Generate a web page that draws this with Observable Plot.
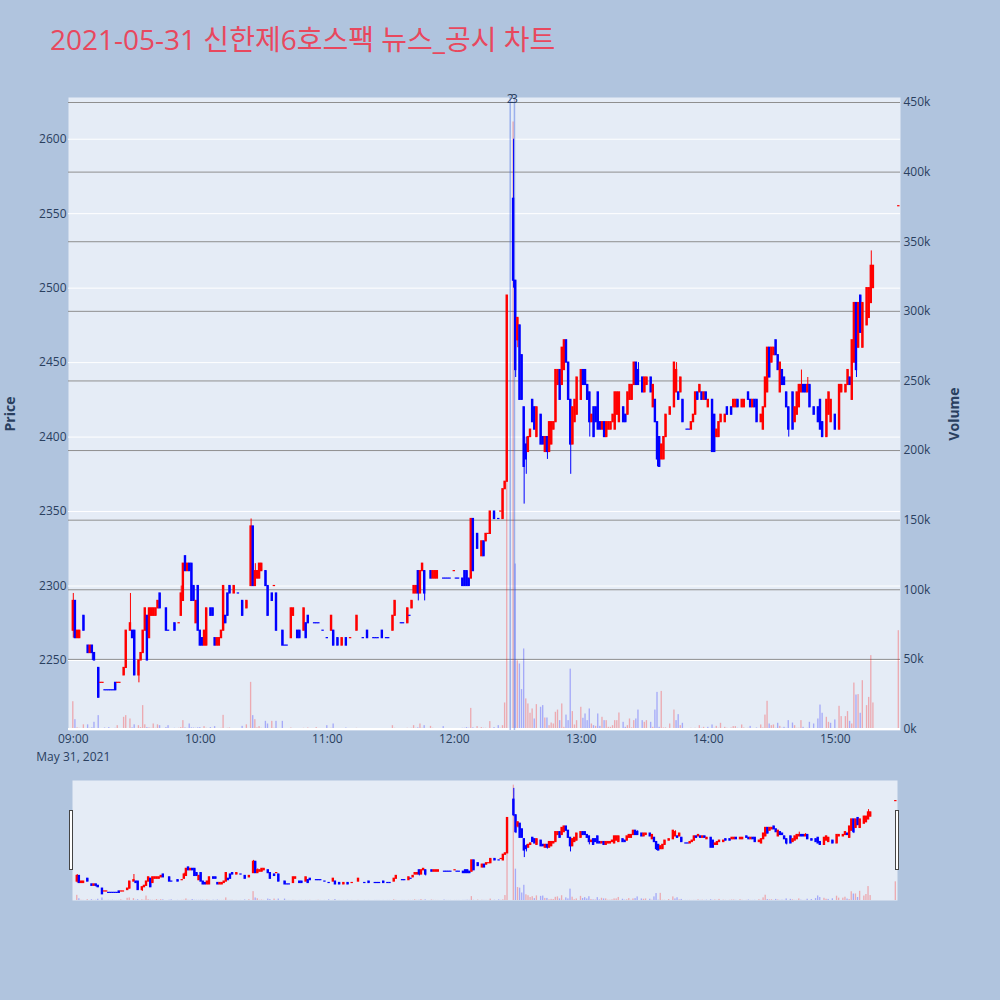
<!DOCTYPE html>
<html>
<head>
<meta charset="utf-8">
<script src="https://cdn.jsdelivr.net/npm/d3@7"></script>
<script src="https://cdn.jsdelivr.net/npm/@observablehq/plot@0.6"></script>
<style>
  body { margin: 0; background: #b0c4de; }
  #chart { position: relative; width: 1000px; height: 1000px; font-family: "Open Sans", "Noto Sans CJK KR", sans-serif; }
  #chart svg { position: absolute; left: 0; }
  #title { position: absolute; left: 50px; top: 18px; font-size: 28px; color: #e8485e; white-space: nowrap; }
  .handle { position: absolute; top: 810px; width: 2px; height: 58px; background: #fff; border: 1px solid #444; }
</style>
</head>
<body>
<div id="chart">
  <div id="title">2021-05-31 신한제6호스팩 뉴스_공시 차트</div>
</div>
<script>
const day = "2021-05-31";

// one entry per traded minute
const times = [
  "09:00","09:01","09:02","09:03","09:05","09:07","09:08","09:09","09:10","09:12",
  "09:13","09:14","09:15","09:16","09:17","09:18","09:19","09:20","09:21","09:22",
  "09:24","09:25","09:27","09:28","09:29","09:31","09:32","09:33","09:34","09:35",
  "09:36","09:37","09:38","09:39","09:40","09:41","09:44","09:45","09:48","09:50",
  "09:51","09:52","09:53","09:54","09:55","09:56","09:57","09:58","09:59","10:00",
  "10:01","10:02","10:03","10:05","10:06","10:07","10:08","10:09","10:10","10:11",
  "10:12","10:13","10:14","10:16","10:18","10:20","10:22","10:24","10:25","10:26",
  "10:27","10:28","10:29","10:31","10:32","10:34","10:35","10:36","10:39","10:40",
  "10:41","10:43","10:44","10:46","10:47","10:49","10:50","10:51","10:54","10:55",
  "10:56","10:58","11:00","11:02","11:03","11:05","11:07","11:09","11:11","11:14",
  "11:17","11:19","11:22","11:23","11:24","11:26","11:28","11:29","11:31","11:32",
  "11:35","11:36","11:38","11:39","11:40","11:41","11:42","11:43","11:44","11:45",
  "11:46","11:49","11:50","11:51","11:52","11:55","11:56","11:57","11:58","12:00",
  "12:01","12:02","12:04","12:05","12:06","12:07","12:08","12:09","12:11","12:13",
  "12:14","12:15","12:16","12:17","12:19","12:21","12:22","12:23","12:24","12:25",
  "12:28","12:29","12:30","12:31","12:32","12:33","12:34","12:35","12:36","12:37",
  "12:38","12:39","12:41","12:42","12:43","12:44","12:45","12:46","12:47","12:48",
  "12:49","12:50","12:51","12:52","12:53","12:54","12:55","12:56","12:57","12:58",
  "13:00","13:01","13:02","13:03","13:04","13:05","13:06","13:07","13:08","13:09",
  "13:10","13:11","13:12","13:13","13:14","13:15","13:16","13:17","13:18","13:20",
  "13:21","13:22","13:23","13:24","13:25","13:26","13:27","13:29","13:30","13:31",
  "13:33","13:34","13:35","13:36","13:37","13:38","13:39","13:40","13:42","13:44",
  "13:45","13:46","13:47","13:48","13:50","13:51","13:52","13:53","13:54","13:55",
  "13:56","13:57","13:58","13:59","14:00","14:02","14:03","14:04","14:05","14:06",
  "14:08","14:09","14:11","14:12","14:13","14:14","14:16","14:17","14:19","14:20",
  "14:21","14:22","14:23","14:25","14:26","14:27","14:28","14:29","14:30","14:31",
  "14:32","14:33","14:34","14:35","14:36","14:37","14:38","14:40","14:41","14:42",
  "14:43","14:44","14:45","14:46","14:47","14:48","14:50","14:52","14:53","14:54",
  "14:56","14:57","14:58","15:00","15:02","15:03","15:05","15:06","15:07","15:08",
  "15:09","15:10","15:11","15:12","15:13","15:15","15:16","15:17","15:18","15:30"
];

const opens = [
  2270,2290,2265,2265,2280,2260,2255,2260,2255,2245,
  2235,2235,2230,2230,2230,2230,2230,2235,2235,2235,
  2240,2245,2270,2270,2270,2240,2250,2255,2270,2280,
  2265,2280,2280,2280,2285,2295,2285,2270,2275,2275,
  2280,2290,2320,2310,2315,2315,2300,2275,2300,2270,
  2265,2260,2260,2285,2285,2265,2260,2260,2265,2270,
  2280,2295,2300,2295,2295,2290,2285,2300,2340,2300,
  2305,2305,2310,2310,2300,2295,2300,2295,2270,2260,
  2260,2265,2280,2270,2270,2270,2275,2280,2275,2275,
  2275,2270,2265,2270,2270,2265,2260,2265,2265,2270,
  2265,2270,2265,2265,2265,2270,2265,2265,2270,2280,
  2275,2275,2275,2280,2285,2295,2295,2310,2295,2310,
  2310,2310,2305,2305,2305,2305,2305,2305,2305,2310,
  2305,2305,2305,2310,2310,2305,2305,2345,2335,2320,
  2330,2330,2335,2335,2350,2345,2350,2345,2365,2370,
  2560,2505,2465,2475,2455,2420,2395,2390,2400,2425,
  2420,2400,2415,2400,2390,2400,2390,2395,2405,2410,
  2435,2445,2435,2445,2465,2450,2425,2395,2410,2415,
  2425,2445,2445,2435,2430,2410,2420,2420,2430,2410,
  2405,2410,2400,2405,2405,2410,2405,2415,2410,2420,
  2415,2415,2425,2425,2435,2450,2445,2440,2430,2435,
  2440,2420,2425,2410,2400,2385,2385,2400,2415,2420,
  2430,2430,2430,2425,2405,2405,2405,2410,2415,2430,
  2430,2430,2425,2430,2420,2425,2415,2400,2400,2410,
  2410,2420,2420,2420,2420,2425,2420,2420,2430,2425,
  2420,2425,2425,2410,2405,2420,2430,2460,2450,2455,
  2465,2455,2430,2445,2440,2430,2420,2430,2410,2415,
  2420,2430,2435,2435,2430,2435,2420,2420,2425,2410,
  2400,2415,2410,2415,2405,2430,2430,2435,2440,2425,
  2450,2490,2460,2495,2460,2475,2480,2490,2500,2555
];

const highs = [
  2295,2290,2270,2270,2280,2260,2260,2260,2255,2245,
  2235,2235,2230,2230,2230,2230,2230,2235,2235,2235,
  2245,2270,2295,2270,2270,2250,2255,2270,2285,2280,
  2285,2285,2285,2285,2290,2295,2285,2270,2275,2275,
  2300,2315,2320,2315,2315,2315,2300,2290,2300,2270,
  2265,2270,2285,2285,2285,2265,2265,2265,2270,2300,
  2280,2295,2300,2300,2295,2290,2290,2345,2340,2315,
  2310,2315,2315,2310,2300,2295,2300,2295,2270,2260,
  2260,2285,2285,2270,2270,2285,2275,2280,2275,2275,
  2275,2270,2265,2280,2270,2265,2265,2265,2265,2280,
  2265,2270,2265,2265,2265,2270,2265,2265,2280,2290,
  2275,2275,2285,2280,2290,2300,2300,2310,2310,2315,
  2310,2310,2310,2310,2310,2305,2305,2305,2305,2310,
  2305,2305,2305,2310,2310,2305,2345,2345,2335,2330,
  2330,2335,2335,2350,2350,2345,2350,2365,2370,2495,
  2600,2505,2480,2475,2455,2420,2400,2400,2405,2425,
  2420,2420,2415,2400,2400,2400,2410,2410,2410,2445,
  2445,2445,2460,2465,2465,2450,2425,2420,2425,2440,
  2445,2445,2445,2435,2430,2415,2420,2420,2430,2410,
  2410,2410,2410,2410,2410,2415,2430,2430,2430,2420,
  2415,2430,2435,2435,2450,2450,2450,2440,2440,2440,
  2440,2435,2425,2410,2400,2395,2400,2415,2420,2450,
  2450,2430,2440,2425,2405,2405,2410,2415,2430,2430,
  2435,2430,2430,2430,2425,2425,2415,2405,2410,2415,
  2415,2420,2420,2425,2425,2425,2425,2425,2430,2425,
  2425,2425,2425,2415,2420,2440,2460,2460,2460,2460,
  2465,2455,2450,2445,2440,2430,2420,2430,2420,2430,
  2435,2445,2435,2435,2440,2435,2420,2420,2425,2410,
  2425,2430,2425,2415,2435,2435,2435,2445,2440,2465,
  2490,2490,2490,2495,2490,2500,2500,2525,2515,2555
];

const lows = [
  2265,2265,2265,2265,2270,2255,2255,2250,2250,2225,
  2235,2235,2230,2230,2230,2230,2230,2230,2235,2235,
  2240,2245,2270,2265,2240,2235,2250,2255,2270,2250,
  2265,2280,2280,2280,2285,2285,2270,2270,2270,2275,
  2280,2290,2310,2310,2310,2290,2290,2275,2270,2260,
  2260,2260,2260,2280,2280,2260,2260,2260,2265,2270,
  2275,2280,2295,2295,2295,2280,2285,2300,2300,2300,
  2305,2305,2310,2300,2280,2290,2300,2270,2260,2260,
  2260,2265,2280,2265,2265,2270,2265,2275,2275,2275,
  2275,2270,2265,2270,2260,2260,2260,2260,2265,2270,
  2265,2265,2265,2265,2265,2265,2265,2265,2270,2280,
  2275,2275,2275,2280,2285,2295,2295,2290,2295,2310,
  2290,2305,2305,2305,2305,2305,2305,2305,2305,2310,
  2305,2305,2300,2300,2300,2300,2305,2310,2325,2320,
  2320,2330,2335,2335,2345,2345,2350,2345,2365,2370,
  2500,2440,2460,2425,2425,2355,2375,2390,2400,2410,
  2405,2400,2395,2395,2390,2385,2390,2395,2405,2410,
  2435,2425,2435,2445,2450,2425,2375,2395,2410,2415,
  2425,2435,2435,2425,2400,2410,2400,2410,2405,2405,
  2405,2400,2400,2405,2405,2410,2405,2415,2410,2410,
  2410,2415,2425,2425,2435,2435,2435,2430,2430,2435,
  2430,2420,2410,2380,2380,2385,2385,2400,2415,2420,
  2430,2425,2430,2410,2405,2405,2405,2410,2415,2425,
  2430,2425,2425,2425,2420,2390,2390,2400,2400,2410,
  2410,2415,2415,2420,2420,2420,2420,2420,2425,2420,
  2420,2420,2410,2410,2405,2420,2430,2440,2450,2455,
  2455,2445,2430,2435,2435,2420,2400,2405,2410,2415,
  2420,2430,2430,2430,2430,2420,2415,2410,2405,2400,
  2400,2415,2410,2405,2405,2430,2430,2435,2435,2425,
  2450,2440,2460,2470,2460,2475,2480,2490,2500,2555
];

const closes = [
  2290,2265,2270,2270,2270,2255,2260,2255,2250,2225,
  2235,2235,2230,2230,2230,2230,2230,2230,2235,2235,
  2245,2270,2275,2265,2240,2250,2255,2270,2285,2250,
  2285,2285,2285,2285,2290,2285,2270,2270,2270,2275,
  2295,2315,2310,2315,2310,2290,2290,2290,2270,2260,
  2260,2270,2285,2280,2280,2260,2265,2265,2270,2300,
  2275,2280,2295,2300,2295,2280,2290,2340,2300,2310,
  2310,2315,2315,2300,2280,2290,2300,2270,2260,2260,
  2260,2285,2285,2265,2265,2285,2265,2275,2275,2275,
  2275,2270,2265,2280,2260,2260,2265,2260,2265,2280,
  2265,2265,2265,2265,2265,2265,2265,2265,2280,2290,
  2275,2275,2285,2280,2290,2300,2300,2295,2310,2315,
  2295,2305,2310,2310,2310,2305,2305,2305,2305,2310,
  2305,2305,2300,2300,2300,2300,2345,2310,2325,2330,
  2320,2335,2335,2350,2345,2345,2350,2365,2370,2495,
  2505,2445,2480,2425,2425,2380,2385,2400,2405,2410,
  2405,2420,2395,2395,2400,2390,2410,2410,2410,2445,
  2445,2425,2460,2465,2450,2425,2395,2420,2425,2440,
  2445,2435,2435,2425,2410,2415,2400,2410,2405,2405,
  2410,2400,2410,2410,2410,2415,2430,2430,2430,2410,
  2410,2430,2435,2435,2450,2435,2435,2430,2440,2440,
  2430,2435,2410,2385,2380,2395,2400,2415,2420,2450,
  2445,2425,2440,2410,2405,2405,2410,2415,2430,2425,
  2435,2425,2430,2425,2425,2390,2390,2405,2410,2415,
  2415,2415,2415,2425,2425,2420,2425,2425,2425,2420,
  2425,2420,2410,2415,2420,2440,2460,2440,2460,2460,
  2455,2445,2450,2435,2435,2420,2405,2405,2420,2430,
  2435,2435,2430,2430,2435,2420,2415,2410,2405,2400,
  2425,2430,2425,2405,2435,2435,2435,2445,2435,2465,
  2490,2445,2490,2470,2490,2500,2500,2515,2515,2555
];

// traded volume per minute, in thousands of shares
const volumesK = [
  19.6,6.7,0.8,0.5,3,3,0.5,0.8,4.8,9.6,
  0.3,0.3,0.7,0.3,1,0.3,0.3,0.5,2.4,0.3,
  8.4,9.6,7.2,0.8,3,2.4,1,16.8,3,1,
  0.8,0.5,3.6,0.5,3,2.4,1,2.4,0.5,0.5,
  1,6,0.8,0.5,3.6,0.8,0.7,0.5,0.8,1,
  0.3,1.7,0.5,1,0.3,1.7,0.3,0.3,0.5,9.8,
  0.3,0.5,0.7,0.3,0.3,1.9,3,33.5,9.6,6.7,
  0.8,1.7,0.5,5.5,3.6,5.5,0.5,5.5,5.5,0.3,
  0.3,0.7,0.3,0.3,0.3,0.5,0.3,0.7,0.3,1,
  0.3,0.3,2.4,0.5,3.6,0.3,0.3,0.7,0.3,0.5,
  0.3,0.3,0.3,0.3,0.3,0.3,0.3,0.3,2.4,0.5,
  0.3,0.3,0.5,0.3,0.5,2.4,0.5,0.8,3.6,0.5,
  2.4,1.9,0.5,0.3,0.3,1.7,0.3,0.3,0.3,0.3,
  0.3,0.3,0.5,0.5,1,0.5,14.8,0.8,1.7,1,
  0.5,0.5,0.3,5.3,1,2.4,0.5,2.4,18.7,230,
  436,118.5,49,46.7,28.3,57.5,21.6,18,11.3,14.4,
  7.2,17.5,15.6,16.8,7.9,7.9,2.4,4.3,3.6,12,
  13.6,6,18,1.2,10,6,43,12.5,2.9,6,
  15.6,7.7,10.8,6,14.4,3.6,2.4,1.9,10.8,1.9,
  8.4,6,6,1.2,1.2,2.4,6,6,11.5,4.8,
  1.2,2.4,7.2,0.8,6,7.2,13.6,6,4.8,6,
  4.8,1.2,13.6,26.3,1.2,27,0.7,0.8,3.6,13.6,
  6,10.3,2.4,4.1,0.3,0.3,0.5,0.3,0.5,0.3,
  2.4,0.5,1.2,0.3,1.2,2.9,0.5,1.9,0.5,4.1,
  1.2,0.5,0.7,1.7,1.7,0.5,2.9,0.7,0.5,1.9,
  0.3,0.3,0.7,2.9,0.7,10,19.9,3.6,2.4,2.9,
  0.5,4.1,1.9,0.5,1.2,0.5,6,4.3,2.4,0.5,
  0.5,6,1.2,0.3,0.5,4.8,3.6,7.2,17.2,11.3,
  8.4,4.8,4.1,6.5,16.3,8.9,8.9,12.5,5.5,3.6,
  33,24.4,24.7,11.3,34.7,16.8,22.7,52.7,18.7,70.6
];

// news / disclosure markers
const newsTimes = ["12:26:25", "12:28:25"];
const newsLabels = ["2", "3"];

const hourTicks = ["09:00", "10:00", "11:00", "12:00", "13:00", "14:00", "15:00"];
const priceTicks = [2250, 2300, 2350, 2400, 2450, 2500, 2550, 2600];
const volumeTicks = [0, 50000, 100000, 150000, 200000, 250000, 300000, 350000, 400000, 450000];
const priceDomain = [2203, 2628];
const volumeDomain = [-1080, 453600];
const xStart = "08:57:44", xEnd = "15:30:48";

const UP = "#ff0000", DOWN = "#0000ff";
const parse = d3.utcParse("%Y-%m-%d %H:%M:%S");
const at = hm => parse(`${day} ${hm.length === 5 ? hm + ":00" : hm}`);
const shift = (t, s) => new Date(+t + s * 1000);

let prevClose = null, prevUp = true, prevVolUp = true;
const rows = times.map((hm, i) => {
  const t = at(hm), o = opens[i], c = closes[i];
  let up;
  if (c !== o) up = c > o;
  else if (prevClose !== null && c !== prevClose) up = c > prevClose;
  else up = prevUp;
  const volUp = prevClose === null ? up : (c !== prevClose ? c > prevClose : prevVolUp);
  prevClose = c; prevUp = up; prevVolUp = volUp;
  return {
    time: t, x1: shift(t, -34), x2: shift(t, 34), vx1: shift(t, -19), vx2: shift(t, 19),
    high: highs[i], low: lows[i], bodyLow: Math.min(o, c), bodyHigh: Math.max(o, c),
    volume: volumesK[i] * 1000, color: up ? UP : DOWN, volColor: volUp ? UP : DOWN
  };
});
const news = newsTimes.map((t, i) => ({time: at(t), label: newsLabels[i]}));

const xDomain = [at(xStart), at(xEnd)];
const style = {background: "transparent", fontFamily: "'Open Sans', 'Noto Sans CJK KR', sans-serif",
               fontSize: "12px", color: "#2a3f5f", overflow: "visible"};
const main = {width: 1000, height: 780, marginLeft: 68, marginRight: 100, marginTop: 97, marginBottom: 50, style};
const slider = {width: 1000, height: 120, marginLeft: 72, marginRight: 103, marginTop: 0, marginBottom: 0, style};

const candleMarks = [
  Plot.ruleX(rows, {x: "time", y1: "low", y2: "high", stroke: "color", strokeWidth: 1}),
  Plot.rect(rows, {x1: "x1", x2: "x2", y1: "bodyLow", y2: "bodyHigh", fill: "color", insetTop: -0.6, insetBottom: -0.6})
];
const volumeBars = Plot.rectY(rows, {x1: "vx1", x2: "vx2", y: "volume", fill: "volColor", fillOpacity: 0.28});

// price frame, grid and axes
const priceBase = Plot.plot({
  ...main,
  x: {type: "utc", domain: xDomain, ticks: hourTicks.map(at), tickFormat: "%H:%M", tickSize: 0, tickPadding: 4, label: null},
  y: {domain: priceDomain, ticks: priceTicks, tickFormat: "d", tickSize: 0, tickPadding: 2, label: null},
  marks: [
    Plot.frame({fill: "#e5ecf6", stroke: "none"}),
    Plot.ruleY(priceTicks, {stroke: "white", strokeWidth: 1}),
    Plot.text(["May 31, 2021"], {x: () => at(hourTicks[0]), text: d => d, frameAnchor: "bottom", dy: 30}),
    Plot.text(["Price"], {text: d => d, frameAnchor: "left", textAnchor: "middle", dx: -58, rotate: -90, fontSize: 14, fontWeight: "bold"})
  ]
});

// volume on its own right-hand axis
const volumeLayer = Plot.plot({
  ...main,
  x: {type: "utc", domain: xDomain, axis: null},
  y: {domain: volumeDomain, axis: "right", ticks: volumeTicks, tickFormat: "~s", tickSize: 0, tickPadding: 3, label: null},
  marks: [
    Plot.ruleY(volumeTicks.filter(v => v > 0), {stroke: "#8f8f8f", strokeWidth: 1}),
    volumeBars,
    Plot.ruleY([0], {stroke: "white", strokeWidth: 2}),
    Plot.text(["Volume"], {text: d => d, frameAnchor: "right", textAnchor: "middle", dx: 54, rotate: -90, fontSize: 14, fontWeight: "bold"})
  ]
});

const candleLayer = Plot.plot({
  ...main,
  x: {type: "utc", domain: xDomain, axis: null},
  y: {domain: priceDomain, axis: null},
  marks: [
    Plot.ruleX(news, {x: "time", stroke: "royalblue", strokeOpacity: 0.45, strokeWidth: 1.5}),
    ...candleMarks,
    Plot.text(news, {x: "time", text: "label", frameAnchor: "top", dy: -3})
  ]
});

// range slider preview
const sliderVolume = Plot.plot({
  ...slider,
  x: {type: "utc", domain: xDomain, axis: null},
  y: {domain: [0, volumeDomain[1]], axis: null},
  marks: [Plot.frame({fill: "#e5ecf6", stroke: "none"}), volumeBars]
});
const sliderCandles = Plot.plot({
  ...slider,
  x: {type: "utc", domain: xDomain, axis: null},
  y: {domain: priceDomain, axis: null},
  marks: candleMarks
});

const chart = document.querySelector("#chart");
for (const svg of [priceBase, volumeLayer, candleLayer]) { svg.style.top = "0px"; chart.append(svg); }
for (const svg of [sliderVolume, sliderCandles]) { svg.style.top = "780px"; chart.append(svg); }
for (const left of [69, 895]) {
  const h = document.createElement("div");
  h.className = "handle";
  h.style.left = left + "px";
  chart.append(h);
}
</script>
</body>
</html>
